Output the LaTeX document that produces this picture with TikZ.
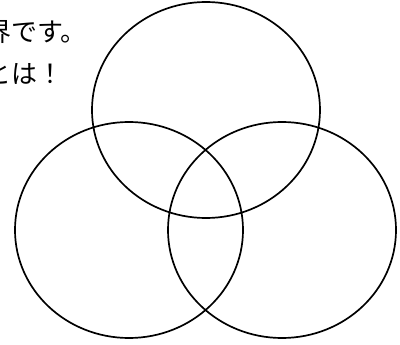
\documentclass[tikz,border=0pt]{standalone}
\usepackage{fontspec}
\newfontfamily\jpfont{Noto Sans CJK JP}
\usetikzlibrary{shapes.geometric}
\tikzset{
  venn/.style={draw=black, line width=1.7pt, ellipse, minimum width=228pt, minimum height=216pt, inner sep=0pt},
  caption/.style={anchor=base west, inner sep=0pt, font=\jpfont\fontsize{26pt}{30pt}\selectfont, text=black}
}
\begin{document}
\begin{tikzpicture}[x=1pt,y=-1pt]
\useasboundingbox (0,0) rectangle (400,345);
\clip (0,0) rectangle (400,345);
\node[caption] (line1) at (-15,42) {界です。};
\node[caption] (line2) at (-15,84) {とは！};
\node[venn] (top) at (206,110) {};
\node[venn] (left) at (129,230) {};
\node[venn] (right) at (282,230) {};
\end{tikzpicture}
\end{document}
